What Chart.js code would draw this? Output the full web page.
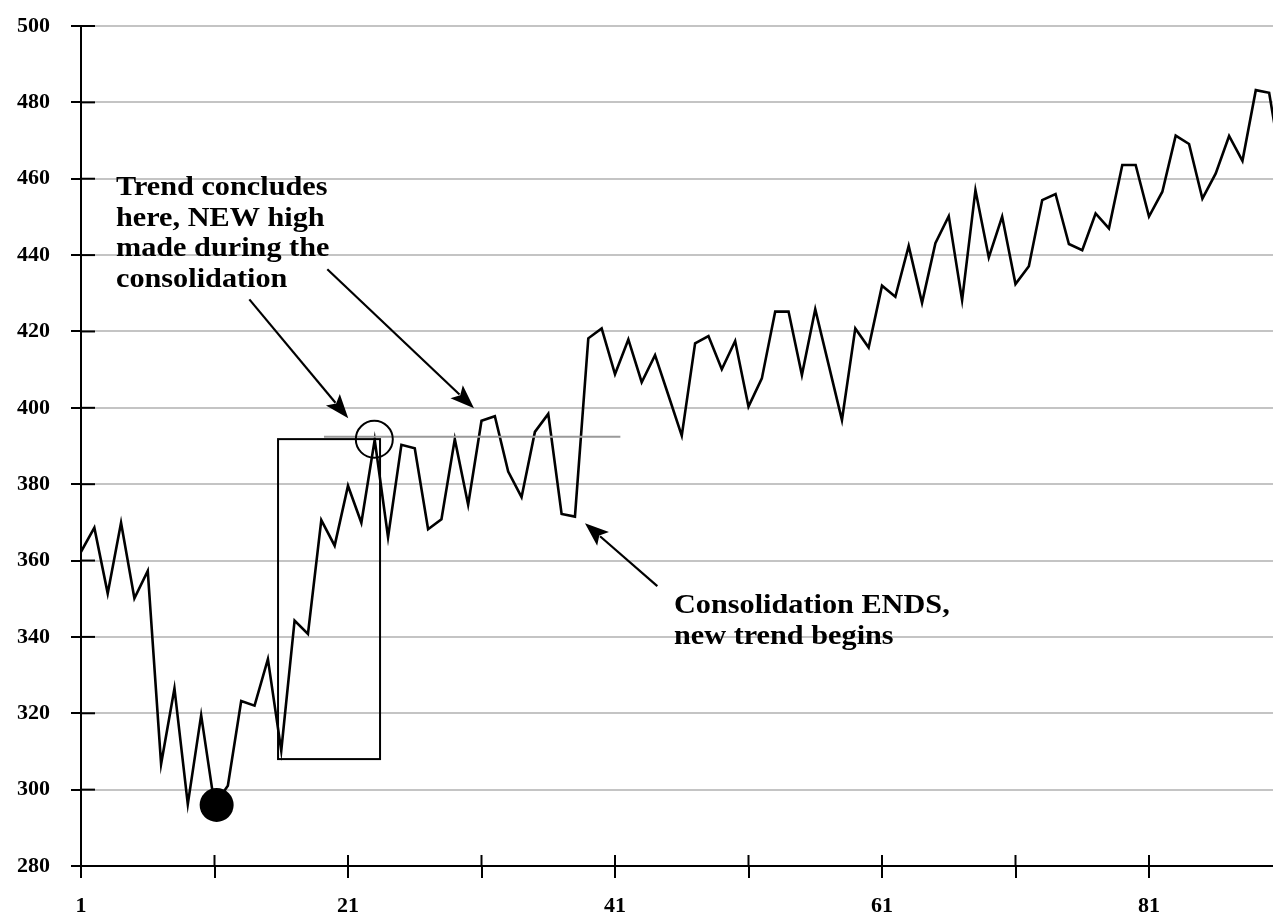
<!DOCTYPE html>
<html>
<head>
<meta charset="utf-8">
<script src="https://cdn.jsdelivr.net/npm/chart.js@4.4.1/dist/chart.umd.min.js"></script>
<style>
html,body{margin:0;padding:0;background:#fff;}
#wrap{width:1273px;height:918px;}
</style>
</head>
<body>
<div id="wrap"><canvas id="c" width="1273" height="918"></canvas></div>
<script>
// ---- data ----
const periods = [1,2,3,4,5,6,7,8,9,10,11,12,13,14,15,16,17,18,19,20,21,22,23,24,25,26,27,28,29,30,
  31,32,33,34,35,36,37,38,39,40,41,42,43,44,45,46,47,48,49,50,51,52,53,54,55,56,57,58,59,60,
  61,62,63,64,65,66,67,68,69,70,71,72,73,74,75,76,77,78,79,80,81,82,83,84,85,86,87,88,89,90,91];
const prices = [362.3,368.6,351.4,369.9,350.1,357.3,306.7,326.5,296.2,319.5,
  296.0,301.0,323.2,322.0,334.2,310.2,344.3,340.8,370.6,363.9,
  379.6,369.9,391.6,366.1,390.3,389.4,368.2,370.8,391.8,374.6,
  396.6,397.8,383.3,376.6,393.7,398.4,372.2,371.5,418.2,420.8,
  408.8,417.9,406.7,413.8,403.3,392.7,416.9,418.8,410.1,417.5,
  400.3,407.7,425.2,425.2,408.6,425.8,411.3,396.8,420.8,415.8,
  432.0,429.1,442.4,427.5,443.1,450.2,428.2,457.0,439.4,450.1,
  432.4,437.1,454.4,456.0,442.9,441.3,450.9,447.0,463.6,463.6,
  450.1,456.6,471.3,469.1,454.8,461.4,471.2,464.7,483.2,482.5,461.5];
const xTickValues = [1,11,21,31,41,51,61,71,81];
const xTickLabels = ['1','','21','','41','','61','','81'];
const yTickValues = [280,300,320,340,360,380,400,420,440,460,480,500];

// annotation texts
const noteTrend = ['Trend concludes','here, NEW high','made during the','consolidation'];
const noteEnds = ['Consolidation ENDS,','new trend begins'];

// annotation geometry (in data units)
const notes = {
  trendText: {x:3.62, y:455.7},
  endsText: {x:45.42, y:346.2},
  box: {x1:15.76, x2:23.4, y1:391.8, y2:308.0},
  hline: {x1:19.2, x2:41.4, y:392.4},
  ring: {x:22.97, y:391.76},
  dot: {x:11.16, y:296},
  arrows: [
    {x1:13.61, y1:428.4, x2:21.02, y2:397.3},
    {x1:19.45, y1:436.3, x2:30.44, y2:399.9},
    {x1:44.17, y1:353.3, x2:38.75, y2:369.8}
  ]
};

const FONT = '"Liberation Serif","Times New Roman",Times,serif';

const points = periods.map((p,i)=>({x:p, y:prices[i]}));

function arrow(ctx, x1, y1, x2, y2){
  const ang = Math.atan2(y2-y1, x2-x1);
  const hl = 24, hw = 9;
  const bx = x2 - hl*Math.cos(ang), by = y2 - hl*Math.sin(ang);
  ctx.beginPath();
  ctx.moveTo(x1,y1);
  ctx.lineTo(bx + 4*Math.cos(ang), by + 4*Math.sin(ang));
  ctx.stroke();
  ctx.beginPath();
  ctx.moveTo(x2,y2);
  ctx.lineTo(bx + hw*Math.sin(ang), by - hw*Math.cos(ang));
  ctx.lineTo(bx + 5*Math.cos(ang), by + 5*Math.sin(ang));
  ctx.lineTo(bx - hw*Math.sin(ang), by + hw*Math.cos(ang));
  ctx.closePath();
  ctx.fill();
}

const annotate = {
  id: 'annotate',
  afterDraw(chart){
    const ctx = chart.ctx;
    const xs = chart.scales.x, ys = chart.scales.y;
    const X = v=>xs.getPixelForValue(v), Y = v=>ys.getPixelForValue(v);
    const area = chart.chartArea;
    ctx.save();
    // inner tick marks
    ctx.strokeStyle = '#000';
    ctx.lineWidth = 2;
    yTickValues.forEach(v=>{
      const y = Y(v);
      ctx.beginPath(); ctx.moveTo(area.left, y); ctx.lineTo(area.left+14, y); ctx.stroke();
    });
    xTickValues.forEach(v=>{
      const x = X(v);
      ctx.beginPath(); ctx.moveTo(x, area.bottom); ctx.lineTo(x, area.bottom-11); ctx.stroke();
    });
    // grey horizontal line
    ctx.strokeStyle = '#9a9a9a';
    ctx.lineWidth = 2;
    ctx.beginPath(); ctx.moveTo(X(notes.hline.x1), Y(notes.hline.y)); ctx.lineTo(X(notes.hline.x2), Y(notes.hline.y)); ctx.stroke();
    // box
    ctx.strokeStyle = '#000';
    ctx.lineWidth = 2;
    const b = notes.box;
    ctx.strokeRect(X(b.x1), Y(b.y1), X(b.x2)-X(b.x1), Y(b.y2)-Y(b.y1));
    // ring
    ctx.beginPath(); ctx.arc(X(notes.ring.x), Y(notes.ring.y), 18.5, 0, Math.PI*2); ctx.stroke();
    // dot
    ctx.fillStyle = '#000';
    ctx.beginPath(); ctx.arc(X(notes.dot.x), Y(notes.dot.y), 17, 0, Math.PI*2); ctx.fill();
    // arrows
    ctx.lineWidth = 2.2;
    notes.arrows.forEach(a=>arrow(ctx, X(a.x1), Y(a.y1), X(a.x2), Y(a.y2)));
    // texts
    ctx.font = 'bold 27.5px ' + FONT;
    ctx.textAlign = 'left';
    ctx.textBaseline = 'alphabetic';
    const drawLines = (lines, px, py)=>{
      lines.forEach((t,i)=>{
        ctx.save();
        ctx.translate(px, py + i*30.5);
        ctx.scale(1.1, 1);
        ctx.fillText(t, 0, 0);
        ctx.restore();
      });
    };
    drawLines(noteTrend, X(notes.trendText.x), Y(notes.trendText.y));
    drawLines(noteEnds, X(notes.endsText.x), Y(notes.endsText.y));
    ctx.restore();
  }
};

new Chart(document.getElementById('c'), {
  type: 'line',
  data: {
    datasets: [{
      data: points,
      borderColor: '#000',
      borderWidth: 2.6,
      pointRadius: 0,
      tension: 0,
      fill: false
    }]
  },
  options: {
    responsive: false,
    animation: false,
    events: [],
    layout: {padding: {top: 26, left: 0, right: 0, bottom: 0}},
    plugins: {legend: {display: false}, tooltip: {enabled: false}},
    scales: {
      x: {
        type: 'linear',
        min: 1,
        max: 1 + (1273-81)/13.35,
        afterBuildTicks: s => { s.ticks = xTickValues.map(v=>({value:v})); },
        afterFit: s => { s.height = 52; s.paddingLeft = 0; s.paddingRight = 0; },
        ticks: {
          autoSkip: false,
          maxRotation: 0,
          padding: 15,
          color: '#000',
          font: {family: FONT, size: 22, weight: 'bold'},
          callback: (v) => { const i = xTickValues.indexOf(v); return i >= 0 ? xTickLabels[i] : ''; }
        },
        grid: {drawOnChartArea: false, color: '#000', tickLength: 12, lineWidth: 2},
        border: {color: '#000', width: 2}
      },
      y: {
        min: 280,
        max: 500,
        afterBuildTicks: s => { s.ticks = yTickValues.map(v=>({value:v})); },
        afterFit: s => { s.width = 81; s.paddingTop = 0; s.paddingBottom = 0; },
        ticks: {
          padding: 21,
          color: '#000',
          font: {family: FONT, size: 22, weight: 'bold'}
        },
        grid: {color: '#c4c4c4', tickColor: '#000', tickLength: 10, lineWidth: 2},
        border: {color: '#000', width: 2}
      }
    }
  },
  plugins: [annotate]
});
</script>
</body>
</html>
